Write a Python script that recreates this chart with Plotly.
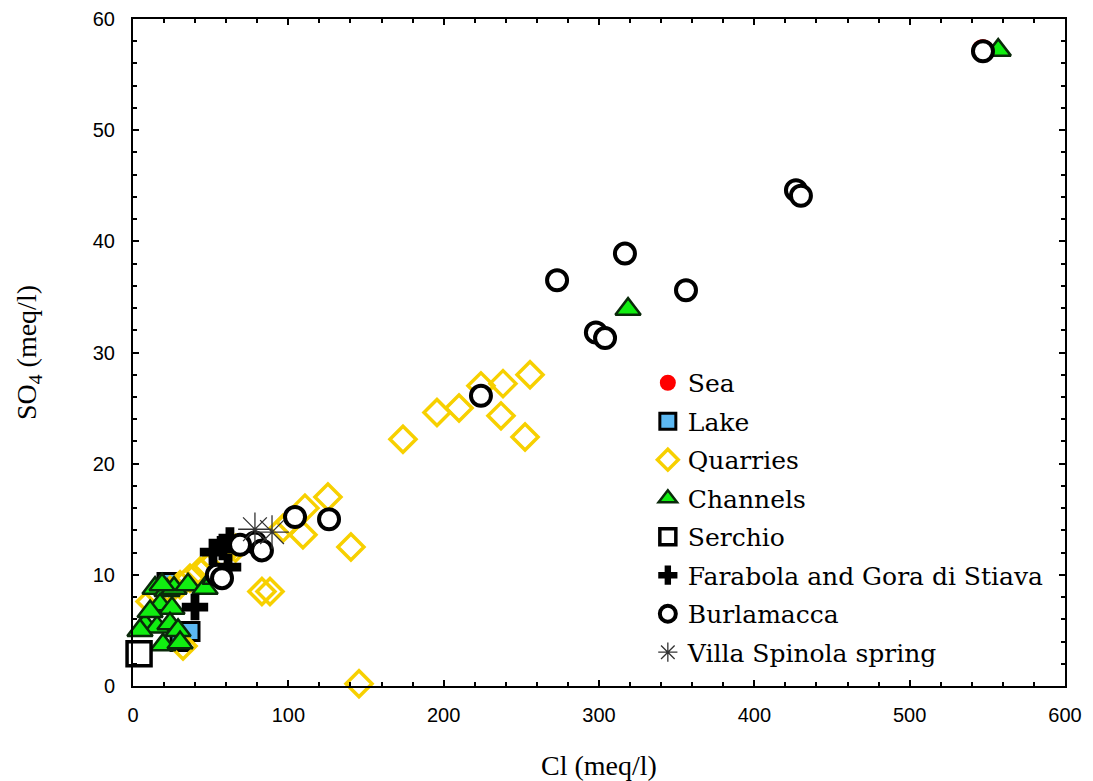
import plotly.graph_objects as go

# ---- data (Cl meq/l, SO4 meq/l) ----
sea_cl = [547.0]
sea_so4 = [57.2]

lake_cl = [21.9, 30.3, 36.7]
lake_so4 = [9.3, 4.0, 4.9]

quarries_cl = [11.0, 17.4, 23.8, 30.3, 36.7, 43.0, 48.3, 52.8, 57.3, 66.0,
               255.6, 238.2, 224.0, 209.9, 195.7, 236.9, 252.4, 173.8, 140.3,
               125.5, 110.7, 109.4, 96.6, 101.0, 83.0, 88.2, 145.5, 32.2]
quarries_so4 = [7.6, 8.2, 8.6, 9.1, 9.7, 10.3, 10.8, 11.3, 11.7, 12.4,
                28.0, 27.2, 27.0, 25.0, 24.6, 24.3, 22.4, 22.2, 12.5,
                17.0, 16.0, 13.6, 14.2, 14.75, 8.5, 8.5, 0.2, 3.6]

channels_cl = [557.0, 318.7, 14.2, 21.9, 26.4, 35.4, 46.4, 17.4, 25.1, 7.7,
               15.5, 4.5, 23.8, 29.0, 19.3, 30.3, 52.8, 18.7, 11.0]
channels_so4 = [57.2, 33.9, 8.8, 8.6, 8.8, 9.1, 8.8, 7.3, 7.0, 5.5,
                5.3, 5.0, 5.6, 5.0, 3.7, 3.9, 9.7, 9.1, 6.7]

serchio_cl = [3.9]
serchio_so4 = [2.9]

farabola_cl = [51.5, 62.4, 57.9, 61.2, 39.9]
farabola_so4 = [12.05, 13.1, 12.5, 10.7, 7.1]

burlamacca_cl = [547.2, 426.8, 430.0, 316.7, 273.0, 356.0, 298.0, 303.9, 224.0,
                 104.3, 126.2, 78.5, 83.0, 68.9, 54.0, 57.3]
burlamacca_so4 = [57.1, 44.6, 44.1, 38.9, 36.5, 35.6, 31.8, 31.3, 26.1,
                  15.2, 15.0, 12.9, 12.2, 12.7, 10.0, 9.7]

villa_cl = [78.5, 89.5]
villa_so4 = [14.1, 13.85]

x_ticks = [0, 100, 200, 300, 400, 500, 600]
y_ticks = [0, 10, 20, 30, 40, 50, 60]

fig = go.Figure()

def add(name, x, y, marker):
    fig.add_trace(go.Scatter(x=x, y=y, mode="markers", name=name,
                             legendgroup=name, marker=marker,
                             cliponaxis=False))

add("Sea", sea_cl, sea_so4,
    dict(symbol="circle", size=22, color="#ff0000", line=dict(width=0)))
add("Lake", lake_cl, lake_so4,
    dict(symbol="square", size=18, color="#5cb8f2", line=dict(width=3, color="black")))
add("Quarries", quarries_cl, quarries_so4,
    dict(symbol="diamond-open", size=20, color="#f7d000", line=dict(width=3.5, color="#f7d000")))
add("Channels", channels_cl, channels_so4,
    dict(symbol="triangle-up", size=22, color="#11ee11", line=dict(width=2.5, color="#0a2a0a")))
add("Serchio", serchio_cl, serchio_so4,
    dict(symbol="square", size=24, color="white", line=dict(width=3.5, color="black")))
add("Farabola and Gora di Stiava", farabola_cl, farabola_so4,
    dict(symbol="cross", size=22, color="black", line=dict(width=0)))
add("Burlamacca", burlamacca_cl, burlamacca_so4,
    dict(symbol="circle", size=20, color="white", line=dict(width=4, color="black")))
add("Villa Spinola spring", villa_cl, villa_so4,
    dict(symbol="asterisk-open", size=28, color="#333333", line=dict(width=1.3, color="#333333")))

axis_common = dict(
    showline=True, linecolor="black", linewidth=2, mirror="allticks",
    ticks="inside", ticklen=6, tickwidth=2, tickcolor="black",
    showgrid=False, zeroline=False, automargin=False,
    tickfont=dict(family="Liberation Sans, Arial", size=20, color="black"),
)

fig.update_xaxes(range=[0, 600], tickvals=x_ticks, ticklabelstandoff=10,
                 minor=dict(ticks="inside", dtick=20, ticklen=4, tickwidth=1.5, tickcolor="black"),
                 title=dict(text="Cl (meq/l)", standoff=30,
                            font=dict(family="Liberation Serif, serif", size=28, color="black")),
                 **axis_common)
fig.update_yaxes(range=[0, 60], tickvals=y_ticks, ticklabelstandoff=12,
                 minor=dict(ticks="inside", dtick=2, ticklen=4, tickwidth=1.5, tickcolor="black"),
                 title=dict(text="SO<sub>4</sub> (meq/l)", standoff=48,
                            font=dict(family="Liberation Serif, serif", size=28, color="black")),
                 **axis_common)

fig.update_layout(
    width=1085, height=773,
    margin=dict(l=125, r=28, t=11, b=95),
    paper_bgcolor="white", plot_bgcolor="white",
    showlegend=True,
    legend=dict(x=0.5524, y=0.4888, xanchor="left", yanchor="top",
                bgcolor="rgba(0,0,0,0)", borderwidth=0,
                tracegroupgap=3, itemsizing="trace",
                font=dict(family="DejaVu Serif, serif", size=25, color="black")),
)

fig.write_html("out.html")
